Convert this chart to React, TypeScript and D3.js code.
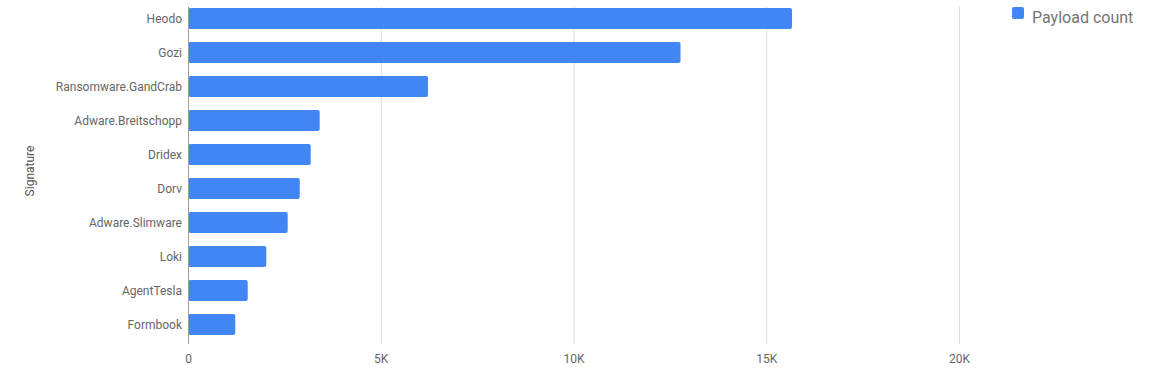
import React from 'react';
import * as d3 from 'd3';

const signatures = ["Heodo", "Gozi", "Ransomware.GandCrab", "Adware.Breitschopp", "Dridex", "Dorv", "Adware.Slimware", "Loki", "AgentTesla", "Formbook"];
const payloadCounts = [15655, 12763, 6213, 3403, 3170, 2885, 2573, 2018, 1536, 1214];
const xTicks = [0, 5000, 10000, 15000, 20000];
const seriesName = "Payload count";

const W = 1165;
const H = 368;
const BLUE = "#4285f4";
const FONT = "Roboto, Arial, sans-serif";

export default function App() {
  const x = d3.scaleLinear().domain([0, 20000]).range([188.5, 959.5]);
  const y = d3.scaleBand<string>()
    .domain(signatures)
    .range([1.5, 341.5])
    .paddingInner(0.38)
    .paddingOuter(0.19);
  const fmt = (v: number) => (v === 0 ? "0" : `${v / 1000}K`);

  return (
    <svg width={W} height={H} style={{ position: "absolute", left: 0, top: 0 }} fontFamily={FONT}>
      <rect x={0} y={0} width={W} height={H} fill="#fff" />
      {/* gridlines */}
      {xTicks.filter(t => t > 0).map(t => (
        <line key={t} x1={x(t)} x2={x(t)} y1={7} y2={344} stroke="#dddddd" strokeWidth={1} />
      ))}
      {/* bars */}
      {signatures.map((s, i) => (
        <rect key={s} x={x(0)} y={y(s)} width={x(payloadCounts[i]) - x(0)} height={y.bandwidth()}
          fill={BLUE} rx={2} ry={2} />
      ))}
      {/* baseline */}
      <line x1={x(0)} x2={x(0)} y1={7} y2={344} stroke="#9e9e9e" strokeWidth={1} />
      {/* category labels */}
      {signatures.map(s => (
        <text key={s} x={182} y={(y(s) ?? 0) + y.bandwidth() / 2} dy="0.35em" textAnchor="end"
          fontSize={12} fill="#666">{s}</text>
      ))}
      {/* tick labels */}
      {xTicks.map(t => (
        <text key={t} x={x(t)} y={359} dy="0.35em" textAnchor="middle" fontSize={12} fill="#666">{fmt(t)}</text>
      ))}
      {/* axis title */}
      <text transform={`translate(34,171) rotate(-90)`} textAnchor="middle" fontSize={12} fill="#555">Signature</text>
      {/* legend */}
      <rect x={1012} y={7} width={12} height={12} rx={2} fill={BLUE} />
      <text x={1032} y={17} dy="0.35em" fontSize={16} fill="#757575">{seriesName}</text>
    </svg>
  );
}
